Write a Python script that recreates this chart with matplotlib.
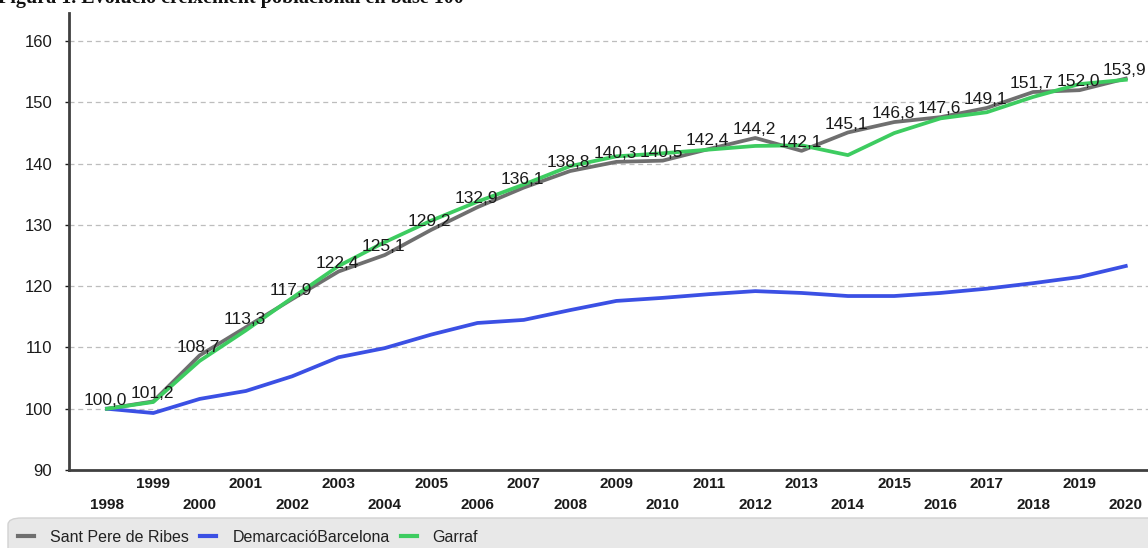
import matplotlib
matplotlib.use("Agg")
import matplotlib.pyplot as plt
from matplotlib.patches import FancyBboxPatch

plt.rcParams["font.family"] = ["Liberation Sans", "DejaVu Sans"]

years = list(range(1998, 2021))
sant_pere = [100.0, 101.2, 108.7, 113.3, 117.9, 122.4, 125.1, 129.2, 132.9, 136.1, 138.8,
             140.3, 140.5, 142.4, 144.2, 142.1, 145.1, 146.8, 147.6, 149.1, 151.7, 152.0, 153.9]
demarcacio = [100.0, 99.3, 101.6, 102.9, 105.3, 108.4, 109.9, 112.1, 114.0, 114.5, 116.1,
              117.6, 118.1, 118.7, 119.2, 118.9, 118.4, 118.4, 118.9, 119.6, 120.5, 121.5, 123.3]
garraf = [100.0, 101.1, 107.8, 112.8, 118.1, 123.3, 127.2, 130.7, 133.8, 136.6, 139.6,
          141.2, 141.7, 142.3, 142.9, 143.0, 141.4, 145.0, 147.4, 148.4, 150.9, 153.0, 153.7]
series_names = ["Sant Pere de Ribes", "DemarcacióBarcelona", "Garraf"]
yticks = [90, 100, 110, 120, 130, 140, 150, 160]

C = {"grey": "#6f6f6f", "blue": "#3b50e4", "green": "#3dcc60", "grid": "#bdbdbd",
     "axis": "#404040", "ink": "#1a1a1a", "legend_bg": "#e8e8e8"}

fig = plt.figure(figsize=(11.48, 5.48), dpi=100)
ax = fig.add_axes([69 / 1148, 1 - 470 / 548, 1 - 69 / 1148, (470 - 13) / 548])

# title is cut off at the top edge in the source image
fig.text(-0.002, 1 - 3.5 / 548, "Figura 1. Evolució creixement poblacional en base 100",
         family="Liberation Serif", fontweight="bold", fontsize=14.5, va="baseline",
         color="#111111")

ax.plot(years, sant_pere, color=C["grey"], lw=2.7, zorder=3, solid_joinstyle="round")
ax.plot(years, demarcacio, color=C["blue"], lw=2.7, zorder=3, solid_joinstyle="round")
ax.plot(years, garraf, color=C["green"], lw=2.7, zorder=4, solid_joinstyle="round")

for x, v in zip(years, sant_pere):
    ax.annotate(f"{v:.1f}".replace(".", ","), (x, v), xytext=(-1, 0.5),
                textcoords="offset points", ha="center", va="bottom",
                fontsize=12.5, color=C["ink"], zorder=5)

ax.set_xlim(1997.18, 2020.48)
ax.set_ylim(90, 164.6)
ax.set_yticks(yticks)
ax.set_yticklabels([str(t) for t in yticks])
ax.set_xticks(years)
ax.set_xticklabels([str(y) if y % 2 else "\n" + str(y) for y in years],
                   fontweight="bold", fontsize=11, linespacing=1.65)
ax.tick_params(axis="x", length=0, pad=5, colors=C["ink"])
ax.tick_params(axis="y", length=3, width=1, pad=9, labelsize=12, colors=C["ink"])

for t in yticks[1:]:
    ax.axhline(t, color=C["grid"], lw=0.9, ls=(0, (4, 3)), zorder=1)
for s in ["top", "right"]:
    ax.spines[s].set_visible(False)
for s in ["left", "bottom"]:
    ax.spines[s].set_color(C["axis"])
    ax.spines[s].set_linewidth(2)

box = FancyBboxPatch((8 / 1148, -0.05), 1.2, (548 - 518) / 548 + 0.05,
                     boxstyle="round,pad=0,rounding_size=0.012", transform=fig.transFigure,
                     facecolor=C["legend_bg"], edgecolor="#d2d2d2", lw=1, zorder=0)
fig.patches.append(box)

handles = [plt.Line2D([], [], color=c, lw=3) for c in (C["grey"], C["blue"], C["green"])]
fig.legend(handles, series_names, loc="center left", bbox_to_anchor=(4 / 1148, 1 - 537 / 548),
           ncol=3, frameon=False, fontsize=11.5, handlelength=1.0, handletextpad=1.0,
           columnspacing=0.7, labelcolor="#222222")

fig.savefig("out.png", dpi=100)
